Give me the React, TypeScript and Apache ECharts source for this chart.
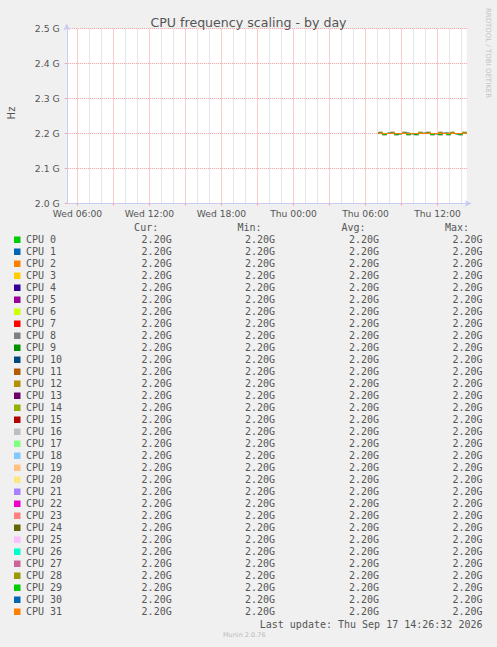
import { useEffect, useRef } from "react";
import * as echarts from "echarts";

// Munin "CPU frequency scaling - by day"
const cpuNames = Array.from({ length: 32 }, (_, i) => `CPU ${i}`);

const cpuColors = [
  "#00CC00", "#0066B3", "#FF8000", "#FFCC00", "#330099", "#990099", "#CCFF00", "#FF0000",
  "#808080", "#008F00", "#00487D", "#B35A00", "#B38F00", "#6B006B", "#8FB300", "#B30000",
  "#BEBEBE", "#80FF80", "#80C9FF", "#FFC080", "#FFE680", "#AA80FF", "#EE00CC", "#FF8080",
  "#666600", "#FFBFFF", "#00FFCC", "#CC6699", "#999900", "#00CC00", "#0066B3", "#FF8000",
];

// sample times on Thursday (data only starts around 07:05)
const sampleTimes = [
  "07:05", "07:25", "07:45", "08:05", "08:25", "08:45", "09:05", "09:25",
  "09:45", "10:05", "10:25", "10:45", "11:05", "11:25", "11:45", "12:05",
  "12:25", "12:45", "13:05", "13:25", "13:45", "14:05", "14:25",
];

// frequencies in MHz, a few observed wobble patterns around 2.2 GHz
const patternA = [2200, 2200, 2200, 2200, 2200, 2200, 2200, 2200, 2200, 2200, 2200, 2200, 2200, 2200, 2200, 2200, 2200, 2200, 2200, 2200, 2200, 2200, 2200];
const patternB = [2200, 2203, 2200, 2200, 2203, 2200, 2200, 2203, 2200, 2200, 2200, 2203, 2200, 2203, 2200, 2200, 2203, 2200, 2200, 2203, 2200, 2200, 2203];
const patternC = [2200, 2200, 2197, 2200, 2200, 2197, 2200, 2200, 2197, 2200, 2197, 2200, 2200, 2200, 2197, 2200, 2197, 2200, 2197, 2200, 2200, 2197, 2200];
const patternD = [2201, 2200, 2200, 2201, 2200, 2199, 2200, 2201, 2200, 2199, 2200, 2200, 2201, 2200, 2200, 2199, 2200, 2201, 2200, 2200, 2199, 2200, 2200];
const patterns = [patternA, patternB, patternC, patternD];
const cpuPattern = [
  1, 2, 3, 1, 2, 3, 1, 2, 3, 2, 1, 3, 2, 1, 3, 2,
  1, 3, 2, 1, 3, 2, 1, 3, 2, 1, 3, 2, 1, 2, 3, 0,
];

// x axis in hours since Wed 00:00
const startHour = 5 + 6 / 60 + 32 / 3600; // Wed 05:06:32
const endHour = 24 + 14 + 26 / 60 + 32 / 3600; // Thu 14:26:32
const labelHours = [6, 12, 18, 24, 30, 36];
const majorHours = [6, 9, 12, 15, 18, 21, 24, 27, 30, 33, 36];
const minorHours = [7, 8, 10, 11, 13, 14, 16, 17, 19, 20, 22, 23, 25, 26, 28, 29, 31, 32, 34, 35, 37, 38];

const yMin = 2.0e9;
const yMax = 2.5e9;

const lastUpdate = "Last update: Thu Sep 17 14:26:32 2026";

const TEXT = "#555";
const MONO = '"DejaVu Sans Mono", monospace';
const SANS = '"DejaVu Sans", sans-serif';
const RED = "#F59A9A";
const GRAY = "#CBCBCB";
const AXIS = "#C8CCF2";

// 12 px per hour; shift the plot so whole hours land on pixel centres
const PLOT_LEFT = 5.5 + startHour * 12 - Math.floor(startHour * 12) + 61;
const PLOT_TOP = 28.5;
const H_DASH_OFFSET = PLOT_LEFT - Math.floor(PLOT_LEFT);

const toHour = (t: string) => {
  const [h, m] = t.split(":").map(Number);
  return 24 + h + m / 60;
};
const fmtG = (v: number) => (v / 1e9).toFixed(2) + "G";

export default function App() {
  const chartRef = useRef<HTMLDivElement>(null);

  useEffect(() => {
    if (!chartRef.current) return;
    const chart = echarts.init(chartRef.current, undefined, { renderer: "svg" });

    const cpuSeries = cpuNames.map((name, i) => {
      const vals = patterns[cpuPattern[i]].map((mhz) => mhz * 1e6);
      return {
        name,
        type: "line" as const,
        step: "start" as const,
        showSymbol: false,
        z: 3,
        lineStyle: { width: 1, color: cpuColors[i] },
        data: sampleTimes.map((t, k) => [toHour(t), vals[k]]),
        stats: {
          cur: vals[vals.length - 1],
          min: Math.min(...vals),
          avg: vals.reduce((a, b) => a + b, 0) / vals.length,
          max: Math.max(...vals),
        },
      };
    });

    // vertical grid lines as tiny two-point series on the same scales
    const gridSeries = [
      ...minorHours.map((h) => ({ h, color: GRAY })),
      ...majorHours.map((h) => ({ h, color: RED })),
    ].map(({ h, color }) => ({
      type: "line" as const,
      silent: true,
      showSymbol: false,
      z: 1,
      lineStyle: { color, width: 1, type: [1, 1], dashOffset: 0.5 },
      data: [
        [h, yMin],
        [h, yMax],
      ],
    }));

    // legend table drawn as graphic elements
    const legend: any[] = [];
    const colRight = [171.7, 275, 379, 482.5];
    const heads = ["Cur:", "Min:", "Avg:", "Max:"];
    heads.forEach((h, c) => {
      legend.push({
        type: "text",
        x: colRight[c] - 13.5,
        y: 227.5,
        style: { text: h, fill: TEXT, font: `10px ${MONO}`, align: "right", verticalAlign: "middle" },
      });
    });
    cpuSeries.forEach((s, i) => {
      const y = 239.7 + i * 12;
      legend.push({
        type: "rect",
        shape: { x: 14, y: y - 3.2, width: 6.5, height: 6.5 },
        style: { fill: cpuColors[i] },
      });
      legend.push({
        type: "text",
        x: 26,
        y,
        style: { text: s.name, fill: TEXT, font: `10px ${MONO}`, align: "left", verticalAlign: "middle" },
      });
      const st = s.stats;
      [st.cur, st.min, st.avg, st.max].forEach((v, c) => {
        legend.push({
          type: "text",
          x: colRight[c],
          y,
          style: { text: fmtG(v), fill: TEXT, font: `10px ${MONO}`, align: "right", verticalAlign: "middle" },
        });
      });
    });

    const option: any = {
      animation: false,
      backgroundColor: "#F0F0F0",
      grid: { left: PLOT_LEFT, top: PLOT_TOP, width: 400, height: 175, backgroundColor: "#fff", show: true, borderWidth: 0 },
      xAxis: {
        type: "value",
        min: startHour,
        max: endHour,
        axisLine: {
          show: true,
          lineStyle: { color: AXIS, width: 1 },
          symbol: ["none", "arrow"],
          symbolSize: [5, 7],
          symbolOffset: [0, 5],
        },
        axisTick: { show: true, customValues: majorHours, length: 2, lineStyle: { color: RED } },
        axisLabel: {
          customValues: labelHours,
          formatter: (v: number) => (v < 24 ? "Wed " : "Thu ") + String(v % 24).padStart(2, "0") + ":00",
          color: TEXT,
          fontFamily: SANS,
          fontSize: 9.2,
          margin: 5,
        },
        splitLine: { show: false },
      },
      yAxis: {
        type: "value",
        min: yMin,
        max: yMax,
        interval: 1e8,
        axisLine: {
          show: true,
          lineStyle: { color: AXIS, width: 1 },
          symbol: ["none", "arrow"],
          symbolSize: [5, 7],
          symbolOffset: [0, 5],
        },
        axisTick: { show: true, length: 2, lineStyle: { color: RED } },
        axisLabel: {
          formatter: (v: number) => (v / 1e9).toFixed(1) + " G",
          color: TEXT,
          fontFamily: SANS,
          fontSize: 9.3,
          margin: 7,
        },
        splitLine: { show: true, lineStyle: { color: RED, type: [1, 1], dashOffset: H_DASH_OFFSET, width: 1 } },
      },
      title: {
        text: "CPU frequency scaling - by day",
        left: "center",
        top: 11,
        textStyle: { color: TEXT, fontFamily: SANS, fontSize: 12.6, fontWeight: "normal" },
      },
      graphic: [
        {
          type: "text",
          x: 11,
          y: 113,
          rotation: Math.PI / 2,
          style: { text: "Hz", fill: TEXT, font: `10px ${SANS}`, align: "center", verticalAlign: "middle" },
        },
        {
          type: "text",
          x: 488,
          y: 53,
          rotation: -Math.PI / 2,
          style: { text: "RRDTOOL / TOBI OETIKER", fill: "#C4C4C4", font: `7px ${SANS}`, align: "center", verticalAlign: "middle" },
        },
        {
          type: "text",
          x: 482.5,
          y: 624,
          style: { text: lastUpdate, fill: TEXT, font: `10px ${MONO}`, align: "right", verticalAlign: "middle" },
        },
        {
          type: "text",
          x: 223,
          y: 635,
          style: { text: "Munin 2.0.76", fill: "#BBBBBB", font: `6.5px ${SANS}`, align: "left", verticalAlign: "middle" },
        },
        ...legend,
      ],
      series: [...gridSeries, ...cpuSeries.map(({ stats, ...s }) => s)],
    };

    chart.setOption(option);
    return () => {
      chart.dispose();
    };
  }, []);

  return (
    <div
      ref={chartRef}
      style={{ position: "fixed", left: 0, top: 0, width: 497, height: 647, background: "#F0F0F0" }}
    />
  );
}
